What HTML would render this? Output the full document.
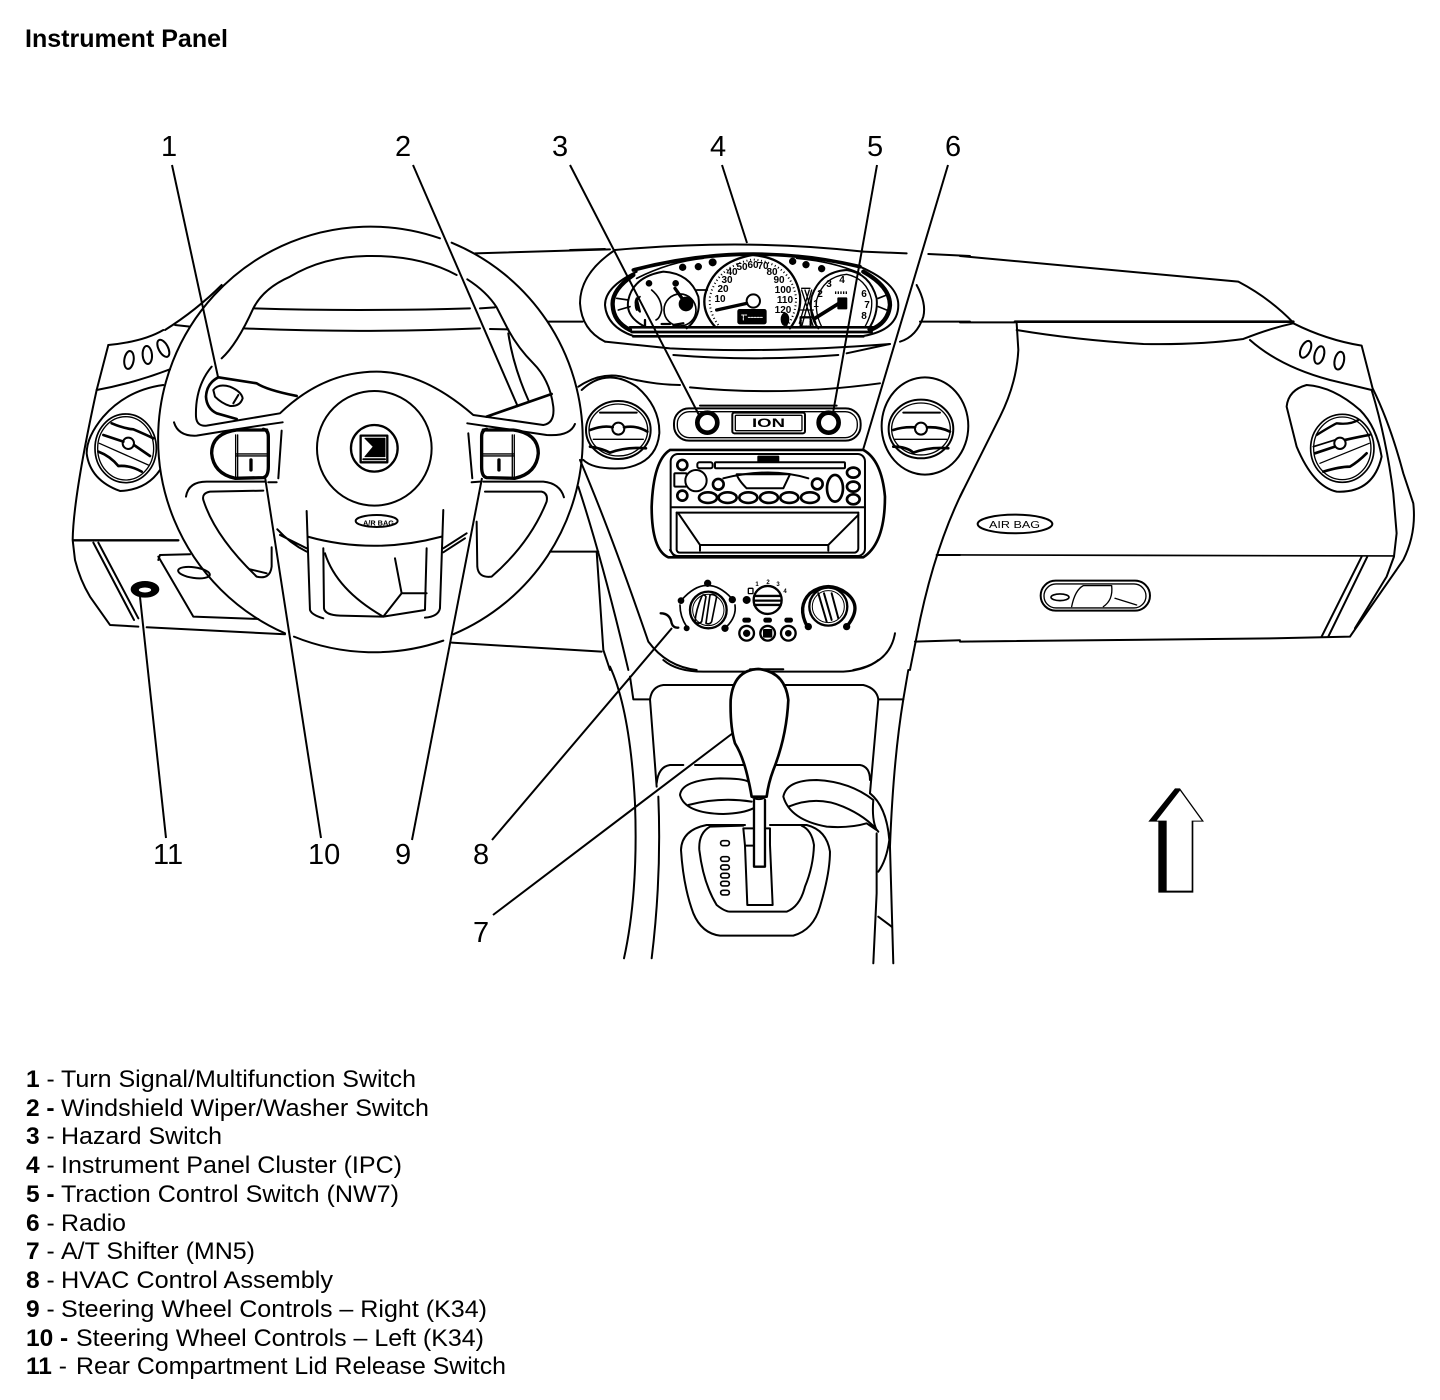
<!DOCTYPE html>
<html><head><meta charset="utf-8"><style>
html,body{margin:0;padding:0;background:#fff;width:1440px;height:1400px;overflow:hidden}
svg{display:block}
text{font-family:"Liberation Sans",sans-serif;fill:#000;stroke:none}
.z{fill:none;stroke:#000;stroke-width:6;stroke-linecap:round;stroke-linejoin:round}
.n{font-size:29px}
.l{font-size:24.5px}
</style></head><body>
<svg width="1440" height="1400" viewBox="0 0 1440 1400" xmlns="http://www.w3.org/2000/svg">
<rect width="1440" height="1400" fill="#fff"/>
<text x="25" y="47" font-size="25" font-weight="bold" textLength="203" lengthAdjust="spacingAndGlyphs">Instrument Panel</text>

<!-- left side -->
<g class="z" transform="translate(60,330) scale(.3333)">
<path d="M145,45 L110,180 Q40,500 38,630 L45,690 Q60,750 90,800 L150,885 L235,890"/>
<path d="M40,631 L355,631" stroke-width="7"/>
<path d="M100,638 L222,870M115,638 L235,865M260,892 L675,913"/>
<path d="M110,180 Q220,160 330,118"/>
<path d="M145,45 Q250,35 310,0"/>
<path d="M310,165 Q200,180 130,260 Q80,320 80,370 Q90,450 180,483 Q260,480 300,420"/>
<ellipse cx="197" cy="355" rx="92" ry="103" stroke-width="5"/>
<ellipse cx="197" cy="355" rx="84" ry="95" stroke-width="4"/>
<circle cx="205" cy="340" r="17" fill="#fff"/>
<path d="M155,280 Q190,295 220,298 Q260,315 280,325" stroke-width="8"/>
<path d="M130,315 L190,335M222,345 L270,378" stroke-width="8"/>
<path d="M118,340 L265,405" stroke-width="4"/>
<path d="M115,365 Q150,378 175,408 Q210,405 245,425" stroke-width="8"/>
<ellipse cx="207" cy="90" rx="14" ry="27" transform="rotate(8 207 90)"/>
<ellipse cx="262" cy="75" rx="14" ry="27" transform="rotate(-5 262 75)"/>
<ellipse cx="310" cy="55" rx="14" ry="28" transform="rotate(-28 310 55)"/>
<ellipse cx="255" cy="778" rx="40" ry="22" fill="#000"/>
<ellipse cx="255" cy="780" rx="20" ry="9" fill="#fff" stroke-width="3"/>
</g>

<!-- steering wheel -->
<g class="z" transform="translate(90,220) scale(.3333)">
<path d="M1050,55 A637,637 0 0 0 585,1240"/>
<path d="M1085,68 A637,637 0 0 1 1090,1243"/>
<path d="M612,1250 A637,637 0 0 0 1060,1262"/>
<path d="M225,330 Q320,270 395,195"/>
<path d="M395,415 Q440,375 490,265 Q520,205 600,170 Q700,110 830,108 Q990,105 1100,165"/>
<path d="M1132,178 Q1190,215 1220,262 L1255,330 Q1285,385 1330,430 Q1380,480 1390,560 Q1395,610 1360,615 L1150,585 Q1000,455 860,455 Q700,455 570,580 L350,617 Q320,620 318,590 Q315,500 365,440"/>
<path d="M490,265 Q800,275 1140,265M1170,265 L1215,262M460,325 Q800,340 1170,325M1200,327 L1255,328"/>
<path d="M1255,340 Q1270,440 1315,540"/>
<path d="M1190,590 L1385,522" stroke-width="8"/>
<path d="M385,472 L500,490 Q530,510 620,528" stroke-width="8"/>
<path d="M385,472 Q350,490 348,530 Q350,565 380,580 L440,597" stroke-width="8"/>
<path d="M370,510 Q385,490 420,500 Q455,515 458,535 Q450,560 420,558 Q395,550 375,530 Z"/>
<path d="M430,550 L445,525"/>
<path d="M252,607 Q265,650 320,647 Q450,625 578,607"/>
<path d="M1132,610 L1370,645 Q1440,650 1455,612"/>
<g>
<path d="M530,630 L440,630 Q365,640 365,700 Q370,760 435,775 L520,773 Q535,770 535,740 L535,650 Q535,630 520,628" stroke-width="10"/>
<path d="M437,645 L437,770M443,645 L443,770M437,702 L530,702M437,708 L530,708" stroke-width="4"/>
<path d="M483,720 L483,750" stroke-width="10"/>
</g>
<g transform="matrix(-1 0 0 1 1710 0)">
<path d="M530,630 L440,630 Q365,640 365,700 Q370,760 435,775 L520,773 Q535,770 535,740 L535,650 Q535,630 520,628" stroke-width="10"/>
<path d="M437,645 L437,770M443,645 L443,770M437,702 L530,702M437,708 L530,708" stroke-width="4"/>
<path d="M483,720 L483,750" stroke-width="10"/>
</g>
<path d="M575,632 L565,775M1135,640 L1147,775"/>
<path d="M288,830 Q295,785 350,785 L525,785M535,787 L560,787M1145,787 L1170,785M1180,785 L1360,785 Q1410,790 1422,832"/>
<path d="M520,812 L360,815 Q335,820 340,840 Q375,950 500,1070 Q540,1080 545,1040 L545,982M480,1048 L530,1060"/>
<path d="M1185,815 L1355,815 Q1375,820 1370,845 Q1320,970 1205,1070 Q1165,1075 1162,1040 L1160,905"/>
<circle cx="853" cy="685" r="172"/>
<circle cx="853" cy="685" r="70" stroke-width="7"/>
<rect x="812" y="647" width="80" height="80" stroke-width="7"/>
<path d="M825,655 L885,655 L885,710 L825,710 L850,680 Z" fill="#000" stroke-width="3"/>
<path d="M820,718 L885,718" stroke-width="6"/>
<ellipse cx="860" cy="903" rx="63" ry="18"/>
<path d="M650,873 L660,1170 Q665,1185 700,1195M1060,870 L1050,1165 Q1045,1190 1005,1193"/>
<path d="M653,950 Q850,1005 1055,950"/>
<path d="M700,985 L702,1165 Q705,1185 750,1187 L880,1190 L1005,1170 L1010,985"/>
<path d="M705,1000 Q740,1110 880,1190 L935,1120 L915,1015M935,1120 L1010,1120"/>
<path d="M562,928 Q600,970 650,995M570,945 L650,985M1060,985 L1130,940M1060,997 L1125,955"/>
<path d="M205,1010 L310,1190 L505,1197M205,1020 L210,1005 L300,1003"/>
<ellipse cx="312" cy="1058" rx="48" ry="16" transform="rotate(8 312 1058)"/>
<path d="M1085,1268 L1535,1295M1380,995 L1525,995"/>
<path d="M1155,100 L1560,88M1375,305 L1478,305"/>
<path d="M255,315 L300,320"/>
</g>
<text x="363" y="525.5" font-size="7.5" font-weight="bold" textLength="31" lengthAdjust="spacingAndGlyphs">A/R BAG</text>

<!-- centre -->
<g class="z" transform="translate(570,230) scale(.3333)">
<path d="M880,65 L1010,70M1075,72 L1200,78M1050,275 L1200,275M0,60 L105,57"/>
<path d="M135,60 Q30,130 30,220 Q35,300 105,335"/>
<path d="M1040,165 Q1070,220 1060,260 Q1040,320 990,335"/>
<path d="M135,60 Q530,25 880,65"/>
<path d="M190,120 Q530,30 870,110" stroke-width="11"/>
<path d="M200,145 Q300,95 400,85M680,85 Q790,95 870,130" stroke-width="5"/>
<path d="M105,335 L300,355 Q600,370 960,342"/>
<path d="M310,375 Q550,395 805,375M830,370 L960,342"/>
<path d="M200,125 Q105,170 105,225 Q110,290 190,318 L880,318 Q985,300 985,225 Q985,160 870,110" stroke-width="6"/>
<path d="M190,135 Q125,180 128,225 Q130,275 180,300M880,125 Q960,170 960,225 Q955,280 900,300" stroke-width="13"/>
<path d="M180,292 L910,292M185,306 L905,306M190,319 L880,319" stroke-width="8"/>
<path d="M145,240 L180,230M925,230 L950,240M140,205 L175,210M925,205 L950,195" stroke-width="5"/>
<path d="M225,290 Q165,260 175,210 Q190,140 280,125 Q360,130 385,200 Q395,260 350,295" stroke-width="6"/>
<circle cx="330" cy="240" r="48" stroke-width="5"/>
<circle cx="348" cy="222" r="19" fill="#000"/>
<path d="M315,175 L348,222" stroke-width="10"/>
<path d="M245,180 Q275,205 275,240 Q270,265 258,270M210,200 Q190,220 200,240" stroke-width="5"/>
<path d="M200,205 Q190,225 210,245Z" fill="#000"/>
<path d="M380,180 L412,180" stroke-width="5"/>
<path d="M435,290 Q395,245 405,195 Q430,95 548,75 Q670,85 690,195 Q695,250 660,295" stroke-width="7"/>
<path d="M445,285 Q415,245 420,200 Q440,110 548,88 Q660,100 678,200 Q680,250 650,290" stroke-width="6" stroke-dasharray="3 8" stroke-linecap="butt"/>
<circle cx="550" cy="213" r="20" fill="#fff"/>
<path d="M440,240 L530,220" stroke-width="10"/>
<rect x="505" y="240" width="82" height="40" rx="4" fill="#000"/>
<path d="M515,255 L530,255M520,255 L520,272M535,262 L580,262" stroke="#fff" stroke-width="3" stroke-dasharray="6 3"/>
<ellipse cx="645" cy="268" rx="10" ry="17" fill="#000"/>
<path d="M745,295 Q715,255 725,200 Q750,125 830,120 Q900,130 920,205 Q925,255 895,298" stroke-width="6"/>
<path d="M755,290 Q735,250 740,210 Q760,140 830,133 Q890,145 905,210 Q908,250 885,290" stroke-width="4"/>
<path d="M735,265 L815,215" stroke-width="11"/>
<rect x="805" y="205" width="24" height="30" fill="#000"/>
<path d="M795,188 L835,188" stroke-width="8" stroke-dasharray="4 4" stroke-linecap="butt"/>
<path d="M695,175 L720,175M690,240 L730,240M695,180 L730,290M725,180 L695,290M705,180 L738,280M718,180 L688,280" stroke-width="4"/>
<rect x="692" y="262" width="30" height="28" fill="none" stroke-width="7" stroke-dasharray="3 4"/>
<circle cx="338" cy="112" r="8" fill="#000"/><circle cx="385" cy="110" r="8" fill="#000"/><circle cx="428" cy="97" r="9" fill="#000"/>
<circle cx="668" cy="94" r="8" fill="#000"/><circle cx="708" cy="104" r="8" fill="#000"/><circle cx="755" cy="116" r="8" fill="#000"/>
<circle cx="237" cy="160" r="7" fill="#000"/><circle cx="317" cy="160" r="7" fill="#000"/>
<path d="M225,270 L225,292M275,282 L300,282M310,285 L340,280" stroke-width="7"/>

<!-- vents centre -->
<path d="M35,480 Q110,410 200,470 Q270,530 268,610 Q260,700 160,715 Q70,720 40,690"/>
<path d="M25,470 Q100,420 175,445 Q260,465 330,465M360,472 Q640,500 930,460"/>
<ellipse cx="145" cy="600" rx="97" ry="87"/>
<ellipse cx="145" cy="600" rx="88" ry="78" stroke-width="4"/>
<circle cx="145" cy="596" r="18" fill="#fff"/>
<path d="M60,600 Q100,585 128,592M162,592 Q200,585 232,605" stroke-width="8"/>
<path d="M60,650 Q95,655 120,668 Q170,650 228,655" stroke-width="8"/>
<path d="M90,548 L200,548" stroke-width="6"/><path d="M70,628 L220,628" stroke-width="4"/>
<ellipse cx="1065" cy="588" rx="130" ry="146"/>
<ellipse cx="1053" cy="597" rx="97" ry="88"/>
<ellipse cx="1053" cy="597" rx="88" ry="78" stroke-width="4"/>
<circle cx="1053" cy="596" r="18" fill="#fff"/>
<path d="M970,600 Q1000,590 1035,592M1072,592 Q1110,590 1140,605" stroke-width="8"/>
<path d="M970,650 Q1010,650 1030,668 Q1080,650 1135,655" stroke-width="8"/>
<path d="M1000,548 L1110,548" stroke-width="6"/><path d="M975,628 L1130,628" stroke-width="4"/>

<!-- ION strip -->
<path d="M390,527 L800,527"/>
<rect x="312" y="535" width="560" height="97" rx="45"/>
<rect x="322" y="545" width="540" height="78" rx="36" stroke-width="4"/>
<circle cx="412" cy="578" r="30" fill="#fff" stroke-width="14"/>
<circle cx="776" cy="578" r="30" fill="#fff" stroke-width="14"/>
<rect x="487" y="548" width="218" height="62" rx="6"/>
<rect x="496" y="556" width="200" height="46" rx="3" stroke-width="4"/>

<!-- radio -->
<path d="M300,660 L880,660 Q935,690 945,800 Q945,940 880,982 L295,982 Q245,960 245,830 Q250,690 300,660" stroke-width="8"/>
<rect x="302" y="672" width="583" height="306" rx="22" stroke-width="6"/>
<rect x="435" y="697" width="390" height="18" rx="3"/>
<rect x="382" y="697" width="46" height="18" rx="6"/>
<rect x="565" y="680" width="60" height="15" fill="#000"/>
<circle cx="337" cy="705" r="15" stroke-width="8"/><circle cx="337" cy="797" r="15" stroke-width="8"/>
<rect x="313" y="730" width="37" height="40" rx="3"/>
<circle cx="378" cy="752" r="32" fill="#fff"/>
<circle cx="445" cy="763" r="16" stroke-width="8"/><circle cx="742" cy="762" r="16" stroke-width="8"/>
<path d="M500,733 L660,733 L640,775 L530,775 Q505,750 500,733Z"/>
<path d="M460,745 Q600,710 715,745"/>
<g stroke-width="8">
<ellipse cx="414" cy="803" rx="27" ry="16"/><ellipse cx="473" cy="803" rx="27" ry="16"/><ellipse cx="535" cy="803" rx="27" ry="16"/>
<ellipse cx="597" cy="803" rx="27" ry="16"/><ellipse cx="658" cy="803" rx="27" ry="16"/><ellipse cx="720" cy="803" rx="27" ry="16"/>
<ellipse cx="795" cy="775" rx="24" ry="40"/>
<ellipse cx="850" cy="728" rx="19" ry="15"/><ellipse cx="850" cy="770" rx="19" ry="15"/><ellipse cx="850" cy="808" rx="19" ry="15"/>
</g>
<path d="M305,832 L885,832M320,848 L865,848" stroke-width="6"/>
<path d="M320,848 L320,960 Q322,968 330,968 L855,968 Q865,965 865,955 L865,848"/>
<path d="M325,850 L390,945 L775,945 L865,855M390,945 L390,962M775,945 L775,962M315,982 L300,960"/>

<!-- HVAC -->
<circle cx="415" cy="1140" r="55" stroke-width="7"/>
<circle cx="415" cy="1140" r="47" stroke-width="3"/>
<path d="M395,1100 Q378,1140 375,1175 Q385,1185 395,1175 L408,1100 Q400,1090 395,1100M420,1095 Q415,1130 408,1180 Q420,1185 425,1175 L440,1100 Q430,1090 420,1095" stroke-width="5"/>
<path d="M335,1110 Q410,1025 485,1105 M495,1125 Q500,1160 470,1190M330,1125 Q330,1160 350,1190" stroke-width="5"/>
<circle cx="333" cy="1112" r="7" fill="#000"/><circle cx="413" cy="1060" r="8" fill="#000"/><circle cx="487" cy="1109" r="8" fill="#000"/><circle cx="465" cy="1195" r="8" fill="#000"/><circle cx="350" cy="1195" r="6" fill="#000"/>
<circle cx="593" cy="1110" r="42" stroke-width="7"/>
<path d="M553,1098 L632,1098M553,1112 L632,1112M553,1125 L632,1125" stroke-width="7"/>
<circle cx="530" cy="1110" r="9" fill="#000"/>
<rect x="535" y="1075" width="14" height="16" rx="2" stroke-width="4"/>
<rect x="520" y="1166" width="20" height="9" rx="4" fill="#000"/><rect x="583" y="1166" width="20" height="9" rx="4" fill="#000"/><rect x="646" y="1166" width="20" height="9" rx="4" fill="#000"/>
<circle cx="530" cy="1210" r="22" stroke-width="7"/><circle cx="593" cy="1210" r="22" stroke-width="7"/><circle cx="655" cy="1210" r="22" stroke-width="7"/>
<circle cx="530" cy="1210" r="8" fill="#000"/><rect x="582" y="1200" width="22" height="20" fill="#000"/><circle cx="655" cy="1210" r="7" fill="#000"/>
<circle cx="775" cy="1130" r="57" stroke-width="7"/>
<circle cx="775" cy="1130" r="48" stroke-width="3"/>
<path d="M745,1090 L770,1175M762,1090 L785,1170M785,1090 L805,1165" stroke-width="6"/>
<path d="M712,1190 Q680,1130 720,1090 Q775,1050 830,1090 Q880,1130 830,1190" stroke-width="10"/>
<circle cx="715" cy="1190" r="8" fill="#000"/><circle cx="830" cy="1190" r="8" fill="#000"/>
<path d="M272,1150 Q300,1150 305,1180 Q310,1195 325,1193" stroke-width="7"/>

<!-- stack sides -->
<path d="M30,690 Q120,900 235,1235 Q290,1310 380,1320"/>
<path d="M25,770 Q100,1000 175,1320M1180,780 Q1090,960 1040,1220 L1020,1320"/>
<path d="M975,1210 Q960,1300 850,1320M540,1318 L640,1318"/>
<path d="M80,965 L100,1260 L120,1320"/>
<path d="M1035,1235 L1170,1231M1100,975 L1170,975"/>
</g>
<text x="752" y="427" font-size="12" font-weight="bold" textLength="33" lengthAdjust="spacingAndGlyphs">ION</text>

<g font-size="10" font-weight="bold" text-anchor="middle">
<text x="720" y="302">10</text><text x="723" y="292">20</text><text x="727" y="283">30</text><text x="732" y="275">40</text><text x="742" y="270">50</text><text x="753" y="268">60</text><text x="763" y="269">70</text><text x="772" y="275">80</text><text x="779" y="283">90</text><text x="783" y="293">100</text><text x="785" y="303">110</text><text x="783" y="313">120</text>
<text x="816" y="307">1</text><text x="820" y="297">2</text><text x="829" y="287">3</text><text x="842" y="283">4</text><text x="864" y="297">6</text><text x="867" y="308">7</text><text x="864" y="319">8</text>
</g>
<g font-size="6" font-weight="bold" text-anchor="middle">
<text x="757" y="586">1</text><text x="768" y="584">2</text><text x="778" y="586">3</text><text x="785" y="593">4</text>
</g>

<!-- shifter -->
<g class="z" transform="translate(610,660) scale(.3333)">
<path d="M160,0 Q200,35 280,35 L700,35 Q770,30 805,0"/>
<path d="M60,50 L70,118 L120,118 Q125,80 160,75 L760,75 Q800,85 805,118 L880,118 L895,30"/>
<path d="M120,118 L140,380M805,118 L780,400"/>
<path d="M0,20 Q60,150 75,430 Q85,700 42,895"/>
<path d="M145,410 Q155,650 125,895"/>
<path d="M880,118 Q850,300 840,560 L850,910"/>
<path d="M800,520 L800,700 L790,910M780,400 Q830,440 838,540 Q830,600 805,635M805,770 L845,800"/>
<path d="M140,370 Q145,320 180,315 L220,315M255,315 L750,315 Q780,320 780,360"/>
<path d="M210,405 Q215,360 330,355 Q400,355 415,365M210,405 Q225,460 340,462 Q400,460 430,445M235,435 Q330,410 425,425"/>
<path d="M520,410 Q530,360 620,360 Q720,365 790,420 Q785,480 800,510 L770,490 Q720,505 650,500 Q540,480 520,410M535,440 Q620,405 700,440 Q770,470 805,515"/>
<path d="M405,495 L290,495 Q215,510 213,570 Q220,680 250,760 Q275,820 330,827 L550,827 Q610,810 630,740 Q660,640 660,575 Q650,510 590,495 L480,495"/>
<path d="M400,497 L300,500 Q265,520 268,570 Q280,670 320,735 Q345,755 360,755 L530,755 Q570,740 585,680 Q610,620 612,555 Q605,510 575,497"/>
<g stroke-width="5"><rect x="332" y="542" width="26" height="15" rx="7"/><rect x="332" y="590" width="26" height="14" rx="7"/><rect x="332" y="615" width="26" height="14" rx="7"/><rect x="332" y="640" width="26" height="14" rx="7"/><rect x="332" y="664" width="26" height="14" rx="7"/><rect x="332" y="691" width="26" height="14" rx="7"/></g>
<path d="M400,505 L405,557 L430,557M400,505 L432,505M470,505 L480,505 L480,555M405,557 L412,735 L488,735 L480,555"/>
<path d="M415,360 Q400,290 375,250 Q360,200 362,120 Q370,30 445,27 Q525,35 535,120 Q530,230 490,330 Q475,370 470,410 L425,410 Q420,380 415,360Z" fill="#fff" stroke-width="8"/>
<path d="M432,420 L432,620 L465,620 L465,420" fill="#fff" stroke-width="7"/>
<path d="M425,410 Q445,425 470,410"/>
</g>

<!-- right side -->
<g class="z" transform="translate(960,240) scale(.3333)">
<path d="M0,48 L835,125 Q930,175 1000,248"/>
<path d="M165,245 L1000,245" stroke-width="8"/>
<path d="M0,247 L165,247M170,250 L175,330 Q170,430 120,530 Q60,650 0,770"/>
<path d="M170,270 Q350,300 550,312 Q720,315 850,297 Q930,265 1000,250"/>
<path d="M1000,250 Q1100,300 1205,317 L1238,445 Q1290,550 1330,700 L1360,790 Q1370,880 1330,960 L1170,1190 L950,1195 L0,1205"/>
<path d="M870,300 Q960,380 1110,420 L1235,450 Q1280,600 1300,760 L1310,880 L1302,950"/>
<path d="M0,945 L1302,948" stroke-width="5"/>
<path d="M1302,950 L1280,1010 L1185,1165M1205,950 L1085,1190M1222,950 L1105,1190"/>
<ellipse cx="1037" cy="328" rx="14" ry="27" transform="rotate(25 1037 328)"/>
<ellipse cx="1078" cy="345" rx="14" ry="27" transform="rotate(15 1078 345)"/>
<ellipse cx="1138" cy="362" rx="14" ry="27" transform="rotate(12 1138 362)"/>
<path d="M1040,435 Q985,450 980,500 L1010,620 Q1060,740 1130,755 Q1240,760 1265,650 Q1250,560 1200,510 Q1120,440 1040,435Z"/>
<ellipse cx="1147" cy="625" rx="95" ry="102" stroke-width="5"/>
<ellipse cx="1147" cy="625" rx="86" ry="94" stroke-width="4"/>
<circle cx="1140" cy="610" r="17" fill="#fff"/>
<path d="M1070,585 Q1110,560 1130,550 Q1170,555 1195,540" stroke-width="7"/>
<path d="M1060,620 L1125,600" stroke-width="5"/>
<path d="M1065,640 L1125,620M1155,600 Q1200,590 1228,585" stroke-width="8"/>
<path d="M1080,670 L1228,610" stroke-width="4"/>
<path d="M1090,695 Q1140,680 1170,680 Q1195,665 1220,640" stroke-width="8"/>
<ellipse cx="165" cy="852" rx="112" ry="28"/>
<rect x="242" y="1022" width="328" height="90" rx="45"/>
<rect x="252" y="1032" width="306" height="72" rx="36" stroke-width="4"/>
<ellipse cx="300" cy="1072" rx="27" ry="10" stroke-width="5"/>
<path d="M335,1100 Q345,1050 370,1037 L455,1037 Q460,1080 430,1100M465,1075 L530,1095" stroke-width="4"/>
</g>
<text x="989" y="528" font-size="10.5" textLength="51" lengthAdjust="spacingAndGlyphs">AIR BAG</text>

<!-- leaders -->
<g stroke="#000" stroke-width="2" fill="none">
<path d="M172,165 L218,377"/>
<path d="M413,165 L518,407"/>
<path d="M570,165 L700,417"/>
<path d="M722,165 L747,243"/>
<path d="M877,165 L833,413"/>
<path d="M948,165 L863,450"/>
<path d="M493,915 L733,733"/>
<path d="M492,840 L672,628"/>
<path d="M412,840 L482,478"/>
<path d="M321,838 L265,477"/>
<path d="M166,838 L140,597"/>
</g>
<g class="n">
<text x="161" y="156">1</text><text x="395" y="156">2</text><text x="552" y="156">3</text><text x="710" y="156">4</text><text x="867" y="156">5</text><text x="945" y="156">6</text>
<text x="153" y="864">11</text><text x="308" y="864">10</text><text x="395" y="864">9</text><text x="473" y="864">8</text><text x="473" y="942">7</text>
</g>

<!-- arrow -->
<g transform="translate(1130,770) scale(.3333)">
<path d="M135,55 L150,55 L222,155 L190,155 L190,368 L85,368 L85,155 L55,155 Z" fill="#000"/>
<path d="M150,62 L215,152 L185,152 L185,362 L110,362 L110,152 L80,152 Z" fill="#fff"/>
</g>

<!-- legend -->
<g class="l">
<text x="26" y="1087"><tspan font-weight="bold">1</tspan> -</text><text x="61" y="1087" textLength="355" lengthAdjust="spacingAndGlyphs">Turn Signal/Multifunction Switch</text>
<text x="26" y="1116" font-weight="bold">2 -</text><text x="61" y="1116" textLength="368" lengthAdjust="spacingAndGlyphs">Windshield Wiper/Washer Switch</text>
<text x="26" y="1144"><tspan font-weight="bold">3</tspan> -</text><text x="61" y="1144" textLength="161" lengthAdjust="spacingAndGlyphs">Hazard Switch</text>
<text x="26" y="1173"><tspan font-weight="bold">4</tspan> -</text><text x="61" y="1173" textLength="341" lengthAdjust="spacingAndGlyphs">Instrument Panel Cluster (IPC)</text>
<text x="26" y="1202" font-weight="bold">5 -</text><text x="61" y="1202" textLength="338" lengthAdjust="spacingAndGlyphs">Traction Control Switch (NW7)</text>
<text x="26" y="1231"><tspan font-weight="bold">6</tspan> -</text><text x="61" y="1231" textLength="65" lengthAdjust="spacingAndGlyphs">Radio</text>
<text x="26" y="1259"><tspan font-weight="bold">7</tspan> -</text><text x="61" y="1259" textLength="194" lengthAdjust="spacingAndGlyphs">A/T Shifter (MN5)</text>
<text x="26" y="1288"><tspan font-weight="bold">8</tspan> -</text><text x="61" y="1288" textLength="272" lengthAdjust="spacingAndGlyphs">HVAC Control Assembly</text>
<text x="26" y="1317"><tspan font-weight="bold">9</tspan> -</text><text x="61" y="1317" textLength="426" lengthAdjust="spacingAndGlyphs">Steering Wheel Controls – Right (K34)</text>
<text x="26" y="1346" font-weight="bold">10 -</text><text x="76" y="1346" textLength="408" lengthAdjust="spacingAndGlyphs">Steering Wheel Controls – Left (K34)</text>
<text x="26" y="1374"><tspan font-weight="bold">11</tspan> -</text><text x="76" y="1374" textLength="430" lengthAdjust="spacingAndGlyphs">Rear Compartment Lid Release Switch</text>
</g>
</svg>
</body></html>
